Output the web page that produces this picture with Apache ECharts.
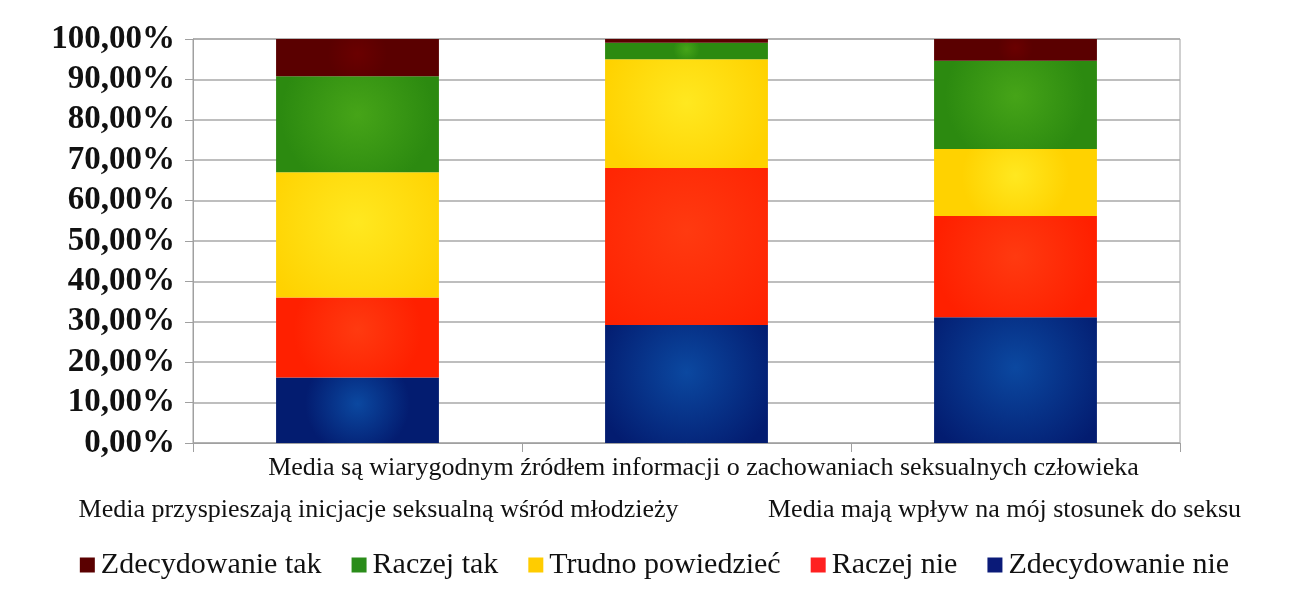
<!DOCTYPE html>
<html>
<head>
<meta charset="utf-8">
<script src="https://cdn.jsdelivr.net/npm/echarts@6/dist/echarts.min.js"></script>
<style>
  html, body { margin: 0; padding: 0; background: #fff; }
  #chart { width: 1309px; height: 602px; }
</style>
</head>
<body>
<div id="chart"></div>
<script>
// Survey statements (x axis)
const categories = [
  'Media przyspieszają inicjacje seksualną wśród młodzieży',
  'Media są wiarygodnym źródłem informacji o zachowaniach seksualnych człowieka',
  'Media mają wpływ na mój stosunek do seksu'
];

// Answer shares in percent, one array per answer
const zdecydowanieNie = [16.2, 29.2, 31.1];
const raczejNie       = [19.8, 38.9, 25.1];
const trudnoPowiedziec = [31.0, 26.9, 16.6];
const raczejTak       = [23.8, 4.1, 21.8];
const zdecydowanieTak = [9.2, 0.9, 5.4];

// Y axis ticks
const yTicks = [0, 10, 20, 30, 40, 50, 60, 70, 80, 90, 100];

const serif = '"Liberation Serif", "Times New Roman", serif';

function shade(center, edge) {
  return {
    type: 'radial', x: 0.5, y: 0.4, r: 0.8,
    colorStops: [{ offset: 0, color: center }, { offset: 1, color: edge }]
  };
}

const seriesDefs = [
  { name: 'Zdecydowanie nie', data: zdecydowanieNie, fill: shade('#0b48a0', '#031c70'), flat: '#0a1a78' },
  { name: 'Raczej nie', data: raczejNie, fill: shade('#ff3a10', '#ff2000'), flat: '#ff2020' },
  { name: 'Trudno powiedzieć', data: trudnoPowiedziec, fill: shade('#ffe820', '#ffd200'), flat: '#ffcc00' },
  { name: 'Raczej tak', data: raczejTak, fill: shade('#46a418', '#2c8a10'), flat: '#2a8c1a' },
  { name: 'Zdecydowanie tak', data: zdecydowanieTak, fill: shade('#6a0000', '#5a0000'), flat: '#5a0000' }
];

const legendOrder = ['Zdecydowanie tak', 'Raczej tak', 'Trudno powiedzieć', 'Raczej nie', 'Zdecydowanie nie'];

// Category labels alternate between two rows; small horizontal nudges per label
const labelRich = {
  c0: { fontFamily: serif, fontSize: 26, color: '#111', lineHeight: 42, padding: [0, 0, 0, 42] },
  c1: { fontFamily: serif, fontSize: 26, color: '#111', lineHeight: 42, padding: [0, 0, 0, 34] },
  c2: { fontFamily: serif, fontSize: 26, color: '#111', lineHeight: 42, padding: [0, 22, 0, 0] }
};

const chart = echarts.init(document.getElementById('chart'), null, { renderer: 'canvas' });

chart.setOption({
  animation: false,
  backgroundColor: '#fff',
  grid: {
    left: 193, right: 129, top: 39, bottom: 159,
    show: true, borderColor: '#a0a0a0', borderWidth: 1, backgroundColor: 'transparent'
  },
  legend: {
    top: 545,
    left: 'center',
    icon: 'rect',
    itemWidth: 15,
    itemHeight: 15,
    itemGap: 30,
    textStyle: { fontFamily: serif, fontSize: 30, color: '#111', padding: [0, 0, 0, 1] },
    data: legendOrder.map(n => {
      const s = seriesDefs.find(d => d.name === n);
      return { name: n, itemStyle: { color: s.flat } };
    })
  },
  xAxis: {
    type: 'category',
    data: categories,
    axisLine: { lineStyle: { color: '#a0a0a0', width: 1 } },
    axisTick: { show: true, length: 9, lineStyle: { color: '#a0a0a0' } },
    axisLabel: {
      interval: 0,
      margin: 4,
      fontFamily: serif,
      fontSize: 26,
      color: '#111',
      lineHeight: 42,
      rich: labelRich,
      formatter: (v, i) => (i % 2 === 1 ? '' : '\n') + '{c' + i + '|' + v + '}'
    }
  },
  yAxis: {
    type: 'value',
    min: yTicks[0],
    max: yTicks[yTicks.length - 1],
    interval: 10,
    axisLine: { show: true, lineStyle: { color: '#a0a0a0' } },
    axisTick: { show: true, length: 8, lineStyle: { color: '#a0a0a0' } },
    splitLine: { show: true, lineStyle: { color: '#a8a8a8', width: 1.5 } },
    axisLabel: {
      margin: 18,
      fontFamily: serif,
      fontSize: 33,
      fontWeight: 'bold',
      color: '#111',
      formatter: v => v.toFixed(2).replace('.', ',') + '%'
    }
  },
  series: seriesDefs.map(d => ({
    name: d.name,
    type: 'bar',
    stack: 'total',
    barWidth: '49.5%',
    data: d.data,
    itemStyle: { color: d.fill }
  }))
});
</script>
</body>
</html>
